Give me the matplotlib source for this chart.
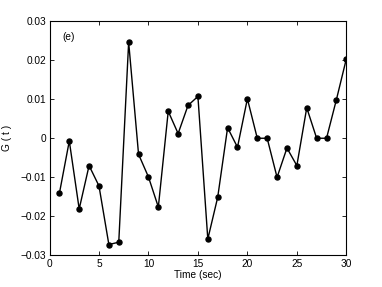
import matplotlib
matplotlib.use("Agg")
import matplotlib.pyplot as plt

plt.rcParams["font.family"] = ["Liberation Sans", "DejaVu Sans"]

time_sec = list(range(1, 31))
g_values = [-0.0141, -0.0007, -0.0181, -0.0070, -0.0122, -0.0272, -0.0266, 0.0246,
            -0.0041, -0.0099, -0.0176, 0.0069, 0.0012, 0.0084, 0.0107, -0.0258,
            -0.0151, 0.0027, -0.0023, 0.0101, 0.0, 0.0, -0.0100, -0.0025,
            -0.0070, 0.0078, 0.0, 0.0, 0.0099, 0.0203]
x_ticks = [0, 5, 10, 15, 20, 25, 30]
y_ticks = [-0.03, -0.02, -0.01, 0, 0.01, 0.02, 0.03]
y_tick_labels = ["\u22120.03", "\u22120.02", "\u22120.01", "0", "0.01", "0.02", "0.03"]

fig = plt.figure(figsize=(3.82, 2.87), dpi=100)
ax = fig.add_axes([0.1296, 0.1098, 0.777, 0.817])

ax.plot(time_sec, g_values, color="black", linewidth=1.0, marker="o",
        markersize=3.6, markerfacecolor="black")

ax.set_xlim(0, 30)
ax.set_ylim(-0.03, 0.03)
ax.set_xticks(x_ticks)
ax.set_yticks(y_ticks)
ax.set_yticklabels(y_tick_labels)
ax.tick_params(direction="in", top=True, right=True, labelsize=7.3, length=3, width=0.6, pad=2.5)
for s in ax.spines.values():
    s.set_linewidth(0.8)

ax.set_xlabel("Time (sec)", fontsize=7.3, labelpad=1)
ax.set_ylabel("G ( t )", fontsize=7.3)
ax.yaxis.set_label_coords(-0.125, 0.5)
ax.text(0.045, 0.955, "(e)", transform=ax.transAxes, fontsize=7.3, va="top", ha="left")

fig.savefig("out.png", dpi=100)
